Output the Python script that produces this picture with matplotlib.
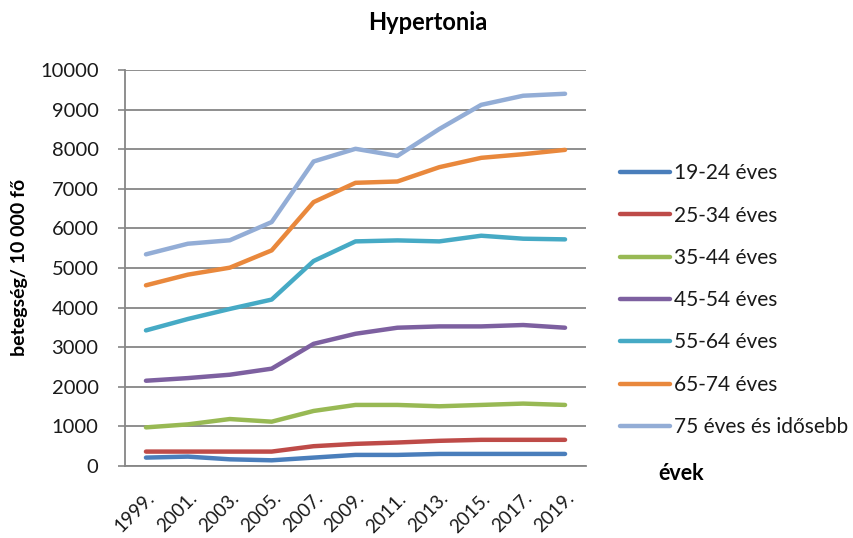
import matplotlib
matplotlib.use("Agg")
import matplotlib.pyplot as plt

plt.rcParams['font.family'] = ['Lato', 'DejaVu Sans']

years = ["1999.", "2001.", "2003.", "2005.", "2007.", "2009.", "2011.", "2013.", "2015.", "2017.", "2019."]
labels = ["19-24 éves", "25-34 éves", "35-44 éves", "45-54 éves", "55-64 éves", "65-74 éves", "75 éves és idősebb"]

s19_24 = [212, 237, 169, 144, 212, 280, 280, 305, 305, 305, 305]
s25_34 = [364, 364, 364, 364, 500, 559, 593, 636, 661, 661, 661]
s35_44 = [975, 1051, 1186, 1119, 1390, 1542, 1542, 1508, 1542, 1576, 1542]
s45_54 = [2153, 2220, 2305, 2458, 3085, 3339, 3492, 3525, 3525, 3560, 3492]
s55_64 = [3424, 3712, 3966, 4203, 5176, 5672, 5697, 5672, 5815, 5740, 5723]
s65_74 = [4563, 4832, 5008, 5445, 6664, 7151, 7185, 7546, 7782, 7874, 7983]
s75 = [5345, 5613, 5700, 6160, 7690, 8010, 7830, 8510, 9120, 9350, 9400]

series = [s19_24, s25_34, s35_44, s45_54, s55_64, s65_74, s75]
colors = ["#4A7EBB", "#BE4B48", "#98B954", "#7D60A0", "#46AAC5", "#E9883C", "#93ADD6"]

fig = plt.figure(figsize=(8.54, 5.38), dpi=100)
ax = fig.add_axes([125/854, 1-466/538, 461/854, 396/538])

x = list(range(len(years)))
for vals, c, lab in zip(series, colors, labels):
    ax.plot(x, vals, color=c, lw=3.2, label=lab, solid_capstyle='round', solid_joinstyle='round', zorder=3)

ax.set_xlim(-0.5, len(years) - 0.5)
ax.set_ylim(0, 10000)
ax.set_yticks(range(0, 10001, 1000))
ax.set_xticks(x)
ax.set_xticklabels(years, rotation=45, ha='right', rotation_mode='anchor', fontsize=13.5, color='#1a1a1a')
ax.tick_params(axis='x', length=0, pad=17)
ax.tick_params(axis='y', length=5, width=1.2, color='#868686', pad=14, labelsize=14.5, labelcolor='#1a1a1a')
ax.grid(axis='y', color='#868686', lw=1.3, zorder=0)
for sp in ['top', 'right']:
    ax.spines[sp].set_visible(False)
for sp in ['left', 'bottom']:
    ax.spines[sp].set_color('#868686')
    ax.spines[sp].set_linewidth(1.3)

fig.text(428/854, 1-22/538, "Hypertonia", ha='center', va='center', fontsize=17, fontweight='bold')
fig.text(20/854, 1-267/538, "betegség/ 10 000 fő", ha='center', va='center', rotation=90, fontsize=14, fontweight='bold')
fig.text(658/854, 1-473/538, "évek", ha='left', va='center', fontsize=15.5, fontweight='bold')

leg = fig.legend(loc='upper left', bbox_to_anchor=(612/854, 1-155/538), frameon=False,
                 fontsize=15, handlelength=2.4, handletextpad=0.2, labelspacing=1.07, borderaxespad=0)
for t in leg.get_texts():
    t.set_color('#1a1a1a')

fig.savefig("out.png", dpi=100)
